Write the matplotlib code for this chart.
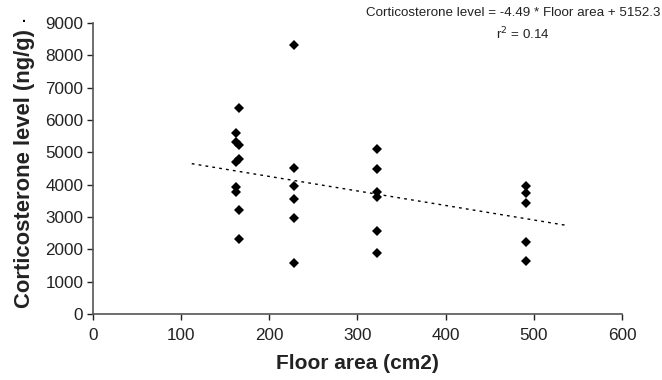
import numpy as np
import matplotlib
matplotlib.use('Agg')
import matplotlib.pyplot as plt

plt.rcParams['font.family'] = ['Liberation Sans', 'DejaVu Sans']

# floor area of each cage (cm2) and corticosterone level (ng/g)
floor_area = [166, 162, 162, 166, 166, 162, 162, 162, 166, 166,
              228, 228, 228, 228, 228, 228,
              322, 322, 322, 322, 322, 322,
              491, 491, 491, 491, 491]
cort_level = [6380, 5585, 5330, 5225, 4790, 4690, 3915, 3760, 3215, 2320,
              8330, 4500, 3970, 3555, 2980, 1590,
              5100, 4480, 3780, 3620, 2575, 1875,
              3970, 3730, 3440, 2235, 1650]

# fitted line: cort = slope * area + intercept
slope = -4.49
intercept = 5152.3
r_squared = 0.14
fit_range = [112, 535]

x_ticks = [0, 100, 200, 300, 400, 500, 600]
y_ticks = [0, 1000, 2000, 3000, 4000, 5000, 6000, 7000, 8000, 9000]

fig = plt.figure(figsize=(6.62, 3.8), dpi=100)
ax = fig.add_axes([0.1405, 0.1737, 0.799, 0.7658])

ax.plot(floor_area, cort_level, linestyle='none', marker='D', ms=5.2,
        color='black', markeredgewidth=0)

fit_x = np.array(fit_range)
ax.plot(fit_x, slope * fit_x + intercept, color='black', lw=1.0,
        linestyle=(0, (2, 3)))

ax.set_xlim(0, 600)
ax.set_ylim(0, 9000)
ax.set_xticks(x_ticks)
ax.set_yticks(y_ticks)
ax.tick_params(labelsize=12.3, colors='#222222', length=4, width=1,
               direction='out')
ax.tick_params(axis='x', pad=6)
ax.tick_params(axis='y', pad=3)
for side in ['top', 'right']:
    ax.spines[side].set_visible(False)
for side in ['left', 'bottom']:
    ax.spines[side].set_color('#555555')
    ax.spines[side].set_linewidth(1.2)

ax.set_xlabel('Floor area (cm2)', fontsize=15, fontweight='bold', labelpad=8,
              color='#222222')
ax.set_ylabel('Corticosterone level (ng/g)', fontsize=15.8, fontweight='bold',
              labelpad=7, color='#222222')

# stray mark above the y label
fig.text(24 / 662, 1 - 22 / 380, '.', fontsize=10, fontweight='bold',
         ha='center', va='baseline')

# regression equation
fig.text(660 / 662, 1 - 13 / 380,
         'Corticosterone level = %.2f * Floor area + %.1f' % (slope, intercept),
         fontsize=9.6, ha='right', va='center', color='#222222')
fig.text(523 / 662, 1 - 34 / 380, 'r$^2$ = %.2f' % r_squared,
         fontsize=9.6, ha='center', va='center', color='#222222')

plt.savefig('out.png', dpi=100)
